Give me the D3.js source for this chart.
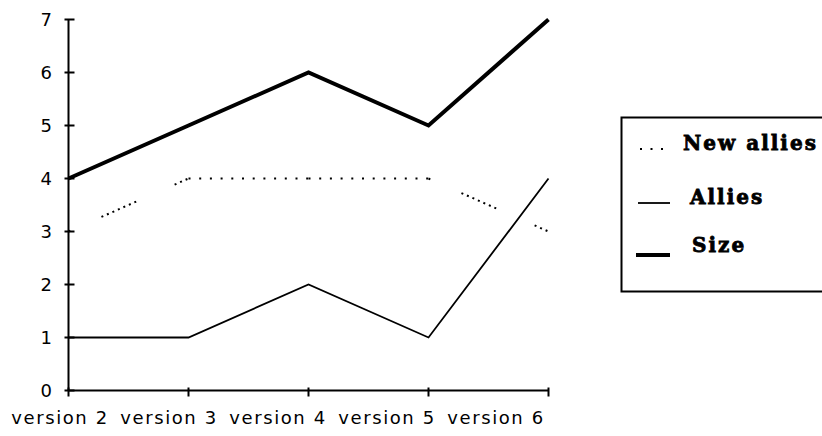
<!DOCTYPE html>
<html>
<head>
<meta charset="utf-8">
<script src="https://cdn.jsdelivr.net/npm/d3@7"></script>
<style>
  html, body { margin: 0; padding: 0; background: #fff; }
  svg { display: block; }
</style>
</head>
<body>
<svg id="chart" width="822" height="436"></svg>
<script>
const categories = ["version 2", "version 3", "version 4", "version 5", "version 6"];
const newAllies = [3, 4, 4, 4, 3];
const allies = [1, 1, 2, 1, 4];
const size = [4, 5, 6, 5, 7];
const yTicks = [0, 1, 2, 3, 4, 5, 6, 7];
const legendLabels = ["New allies", "Allies", "Size"];

const svg = d3.select("#chart");

const x = d3.scalePoint().domain(categories).range([68.5, 548.5]);
const y = d3.scaleLinear().domain([0, 7]).range([390.5, 19.5]);
// label positions (labels in reference are packed tighter than the ticks)
const xl = d3.scalePoint().domain(categories).range([60, 496]);

const axisFont = "'DejaVu Sans', Verdana, sans-serif";

// axes lines
const g = svg.append("g");
g.append("line").attr("x1", x(categories[0])).attr("x2", x(categories[0]))
  .attr("y1", y(7)).attr("y2", y(0)).attr("stroke", "#000").attr("stroke-width", 2);
g.append("line").attr("x1", x(categories[0])).attr("x2", x(categories[categories.length-1]))
  .attr("y1", y(0)).attr("y2", y(0)).attr("stroke", "#000").attr("stroke-width", 2);

// y ticks
g.selectAll(".yt").data(yTicks).enter().append("line")
  .attr("x1", x(categories[0]) - 4).attr("x2", x(categories[0]) + 6)
  .attr("y1", d => y(d)).attr("y2", d => y(d))
  .attr("stroke", "#000").attr("stroke-width", 2);
g.selectAll(".yl").data(yTicks).enter().append("text")
  .attr("x", 52).attr("y", d => y(d)).attr("dy", "0.36em")
  .attr("text-anchor", "end")
  .style("font-family", axisFont).style("font-size", "18px")
  .text(d => d);

// x ticks
g.selectAll(".xt").data(categories).enter().append("line")
  .attr("x1", d => x(d)).attr("x2", d => x(d))
  .attr("y1", y(0) - 3).attr("y2", y(0) + 6)
  .attr("stroke", "#000").attr("stroke-width", 2);
g.selectAll(".xl").data(categories).enter().append("text")
  .attr("x", d => xl(d)).attr("y", 424)
  .attr("text-anchor", "middle")
  .style("font-family", axisFont).style("font-size", "18px")
  .style("letter-spacing", "1.6px")
  .text(d => d);

// New allies: drawn segment by segment to mimic the reference's dotted pattern
const pts = newAllies.map((v, i) => [x(categories[i]), y(v)]);
const diagDash = "2,34,2,4,2,4,2,4,2,4,2,4,2,4,2,42,2,4,2,4,2,4,2,4";
for (let i = 0; i < pts.length - 1; i++) {
  const flat = newAllies[i] === newAllies[i + 1];
  svg.append("path").attr("d", d3.line()([pts[i], pts[i + 1]])).attr("fill", "none")
    .attr("stroke", "#000").attr("stroke-width", 2)
    .attr("stroke-dasharray", flat ? "2,8.7" : diagDash);
}

const line = d3.line().x((d, i) => x(categories[i])).y(d => y(d));
svg.append("path").attr("d", line(allies)).attr("fill", "none")
  .attr("stroke", "#000").attr("stroke-width", 1.8);
svg.append("path").attr("d", line(size)).attr("fill", "none")
  .attr("stroke", "#000").attr("stroke-width", 4).attr("stroke-linejoin", "miter");

// legend
const lg = svg.append("g");
lg.append("rect").attr("x", 621.5).attr("y", 117.5).attr("width", 230).attr("height", 174)
  .attr("fill", "none").attr("stroke", "#000").attr("stroke-width", 2);
const legendStyles = [
  {w: 2, dash: "2,8.5", x1: 640, x2: 668, ly: 149, ty: 143, tx: 683},
  {w: 1.8, dash: null, x1: 638, x2: 670, ly: 203, ty: 197, tx: 690},
  {w: 4, dash: null, x1: 636, x2: 670, ly: 255, ty: 245, tx: 692}
];
legendLabels.forEach((lab, i) => {
  const s = legendStyles[i];
  const l = lg.append("line").attr("x1", s.x1).attr("x2", s.x2).attr("y1", s.ly).attr("y2", s.ly)
    .attr("stroke", "#000").attr("stroke-width", s.w);
  if (s.dash) l.attr("stroke-dasharray", s.dash);
  lg.append("text").attr("x", s.tx).attr("y", s.ty).attr("dy", "0.36em")
    .style("font-family", "'DejaVu Serif', 'Liberation Serif', serif")
    .style("font-weight", "bold").style("font-size", "20px")
    .style("letter-spacing", "2px")
    .attr("stroke", "#000").attr("stroke-width", 0.8)
    .text(lab);
});
</script>
</body>
</html>
